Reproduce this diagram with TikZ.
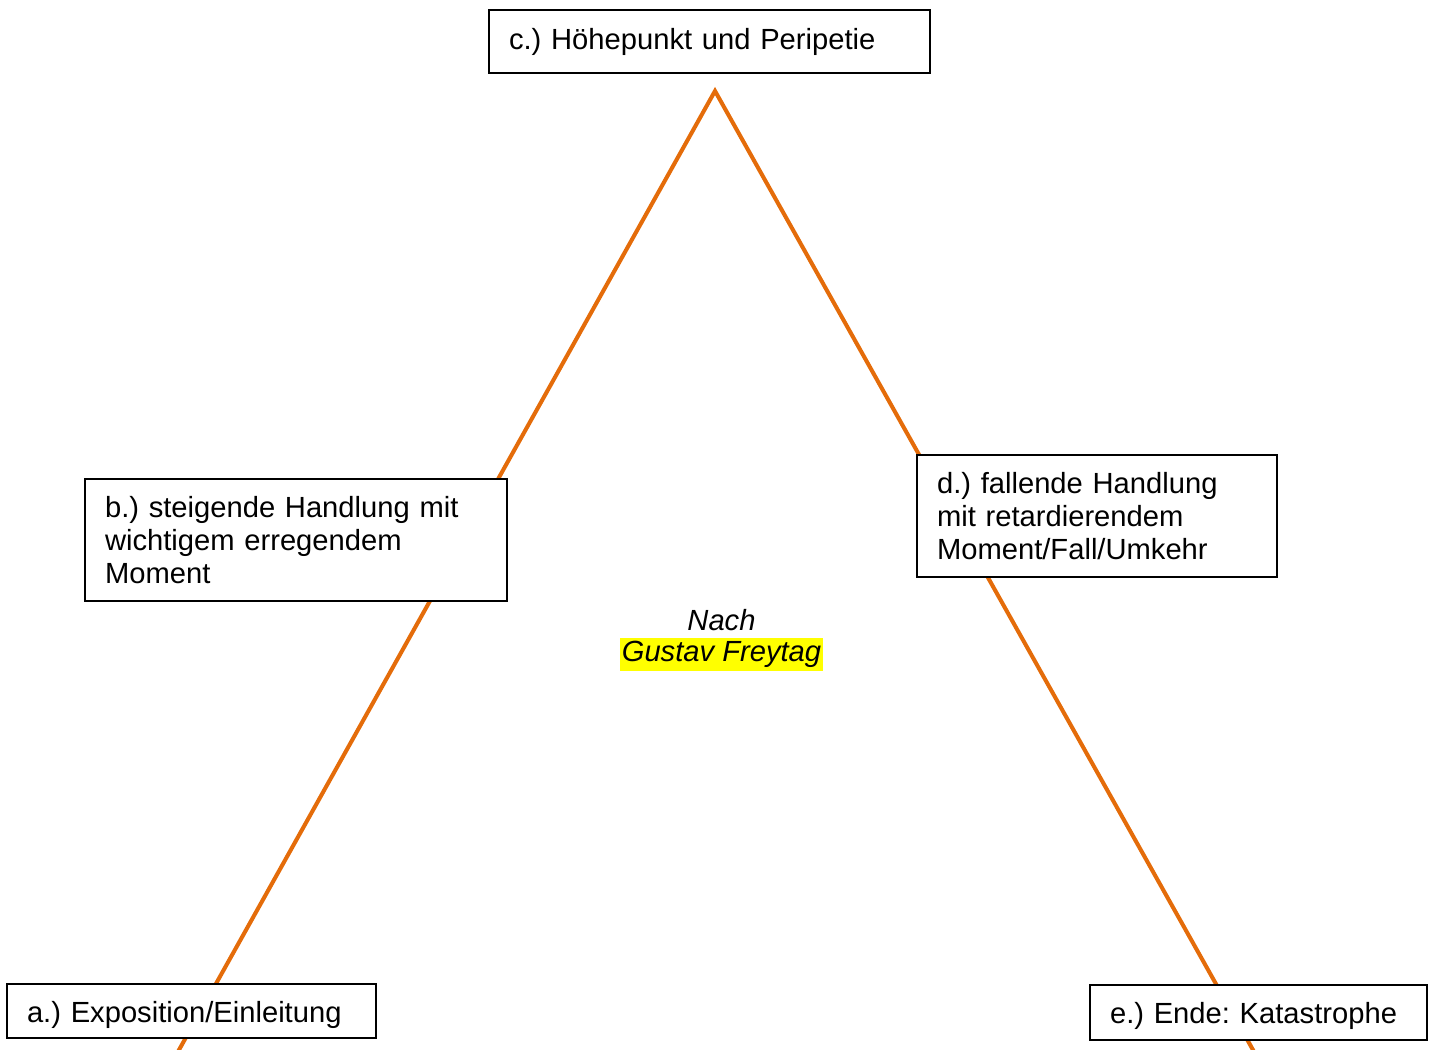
\documentclass[tikz,border=0pt]{standalone}
\usepackage{fontspec}
\setmainfont{Liberation Sans}
\frenchspacing
\usetikzlibrary{positioning}
\definecolor{kurve}{RGB}{228,108,10}
\definecolor{marker}{RGB}{255,255,0}
\tikzset{
	kasten/.style={draw, fill=white, line width=0.9pt, align=left, inner xsep=0.4cm, inner ysep=0pt, font=\fontsize{16.6}{19}\selectfont},
	spannung/.style={line width=2.3pt, color=kurve, line join=miter}
}

\begin{document}
\begin{tikzpicture}[x=0.02cm, y=-0.02cm]
			%%%%% START %%%%%
			
			\useasboundingbox (0, 0) rectangle (1433, 1050);
			\clip (0, 0) rectangle (1433, 1050);
			
			% Kurve
			\coordinate (fussL) at (170, 1066);
			\coordinate (gipfel) at (715, 91);
			\coordinate (fussR) at (1262, 1066);
			\draw[spannung] (fussL) -- (gipfel) -- (fussR);
			
			% Stationen
			\node[kasten, text width=8.02cm, minimum height=1.26cm] (hoehepunkt) at (709.5, 41.5) {c.) Höhepunkt und Peripetie};
			\node[kasten, text width=7.64cm, minimum height=2.44cm] (steigend) at (296, 540) {b.) steigende Handlung mit\\wichtigem erregendem\\Moment};
			\node[kasten, text width=6.4cm, minimum height=2.44cm] (fallend) at (1097, 516) {d.) fallende Handlung\\mit retardierendem\\Moment/Fall/Umkehr};
			\node[kasten, text width=6.58cm, minimum height=1.08cm, text height=1.3em, text depth=0pt] (exposition) at (191.5, 1011) {a.) Exposition/Einleitung};
			\node[kasten, text width=5.94cm, minimum height=1.1cm, text height=1.3em, text depth=0pt] (ende) at (1258.5, 1012.5) {e.) Ende: Katastrophe};
			
			% Quelle
			\node[fill=marker, inner xsep=1pt, inner ysep=0pt, minimum height=0.66cm, font=\fontsize{16.6}{19}\selectfont\itshape] (freytag) at (721.5, 654.5) {Gustav Freytag};
			\node[inner sep=0pt, font=\fontsize{16.6}{19}\selectfont\itshape, above=0.13cm of freytag] (nach) {Nach};
			
			%%%%% END %%%%%
		\end{tikzpicture}
\end{document}
